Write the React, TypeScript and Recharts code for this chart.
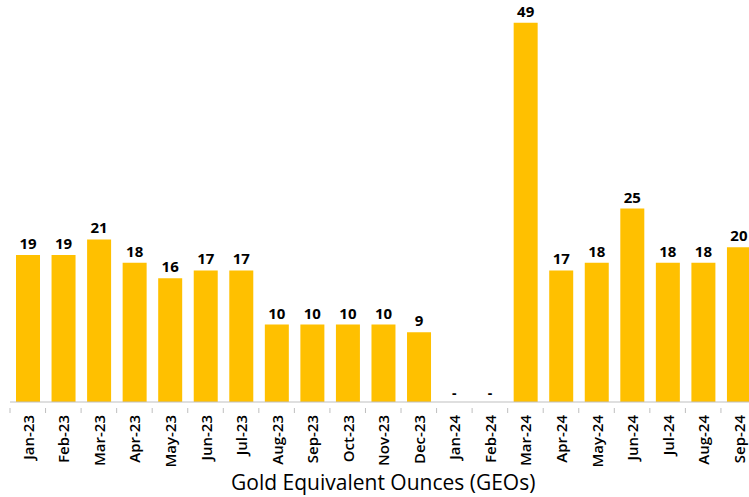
import React from 'react';
import { BarChart, Bar, XAxis, YAxis, LabelList, Label } from 'recharts';

const months = ['Jan-23','Feb-23','Mar-23','Apr-23','May-23','Jun-23','Jul-23','Aug-23','Sep-23','Oct-23','Nov-23','Dec-23','Jan-24','Feb-24','Mar-24','Apr-24','May-24','Jun-24','Jul-24','Aug-24','Sep-24'];
const geos = [19,19,21,18,16,17,17,10,10,10,10,9,0,0,49,17,18,25,18,18,20];
const title = 'Gold Equivalent Ounces (GEOs)';

const data = months.map((m, i) => ({ month: m, geo: geos[i] }));

const CHART_W = 760;
const CHART_H = 497;
const MARGIN = { top: 15, right: 3.5, left: 10, bottom: 0 };
const BAND = (CHART_W - MARGIN.left - MARGIN.right) / months.length;
const FONT = '"Open Sans", "Noto Sans", sans-serif';

const Tick = (props: any) => {
  const { x, y, payload, index } = props;
  const axisY = y - 6;
  return (
    <g>
      <line x1={x - BAND / 2} x2={x - BAND / 2} y1={axisY} y2={axisY + 5} stroke="#BFBFBF" strokeWidth={1} />
      {geos[index] === 0 && (
        <text x={x} y={axisY - 10} textAnchor="middle" fontSize={14} fontWeight={700} fontFamily={FONT} fill="#000">-</text>
      )}
      <text x={x} y={y} transform={`rotate(-90, ${x}, ${y})`} textAnchor="end" dominantBaseline="central" dx={-1} fontSize={15} fontWeight={600} fontFamily={FONT} fill="#000">
        {payload.value}
      </text>
    </g>
  );
};

const ValueLabel = (props: any) => {
  const { x, y, width, value } = props;
  if (value === 0) return null;
  return (
    <text x={x + width / 2} y={y - 6} textAnchor="middle" fontSize={15} fontWeight={700} fontFamily={FONT} fill="#000">
      {value}
    </text>
  );
};

export default function App() {
  return (
    <div style={{ position: 'fixed', left: 0, top: 0, width: 749, height: 497, overflow: 'hidden', background: '#fff' }}>
      <BarChart width={CHART_W} height={CHART_H} data={data} margin={MARGIN} barSize={24}>
        <YAxis hide domain={[0, 50]} />
        <XAxis dataKey="month" interval={0} height={95} tickLine={false} axisLine={{ stroke: '#BFBFBF' }} tick={<Tick />} tickMargin={6}>
          <Label value={title} position="insideBottom" offset={7} style={{ fontSize: 21, fontFamily: FONT, fill: '#000' }} />
        </XAxis>
        <Bar dataKey="geo" fill="#FFC000" isAnimationActive={false}>
          <LabelList dataKey="geo" content={<ValueLabel />} />
        </Bar>
      </BarChart>
    </div>
  );
}
